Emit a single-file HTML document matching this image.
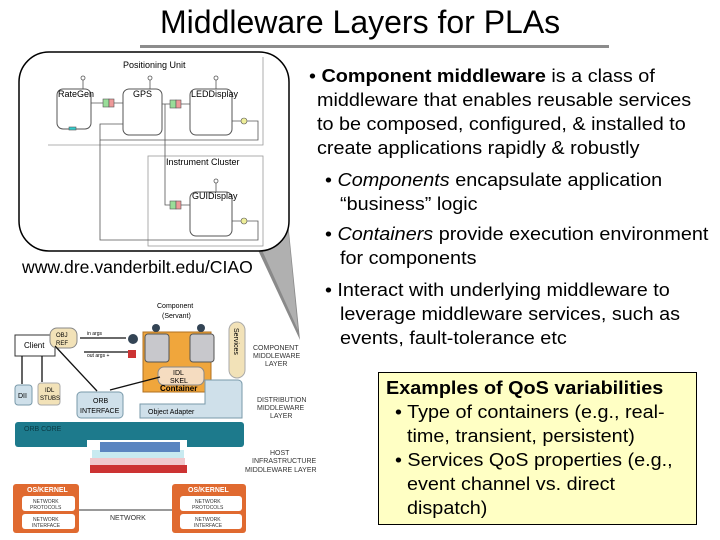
<!DOCTYPE html>
<html><head><style>
body{margin:0;background:#fff;}
#c{position:relative;width:720px;height:540px;overflow:hidden;font-family:"Liberation Sans",sans-serif;}
.t{position:absolute;white-space:nowrap;color:#000;}
.s{transform:scaleX(1.1);transform-origin:0 0;}
</style></head><body><div id="c">
<div class="t" style="left:160px;top:4px;font-size:32px;">Middleware Layers for PLAs</div>
<div style="position:absolute;left:140px;top:45px;width:469px;height:3px;background:#8c8c8c"></div>

<svg width="720" height="540" style="position:absolute;left:0;top:0" font-family="Liberation Sans, sans-serif">
<polygon points="258,250 288,222 300,340" fill="#8a8a8a"/>
<polygon points="262,250 288,228 298,330" fill="#b0b0b0"/>
<rect x="19" y="52" width="270" height="199" rx="30" fill="#fff" stroke="#000" stroke-width="1.5"/>
<g stroke="#999" fill="none" stroke-width="0.8">
<polyline points="48,145 263,145 263,57"/>
<rect x="148" y="156" width="115" height="90"/>
</g>
<text x="123" y="68" font-size="9">Positioning Unit</text>
<text x="166" y="165" font-size="9">Instrument Cluster</text>
<g stroke="#555" fill="#fff" stroke-width="1">
<rect x="57" y="89" width="34" height="40" rx="6"/>
<rect x="123" y="89" width="39" height="46" rx="6"/>
<rect x="190" y="89" width="42" height="46" rx="6"/>
<rect x="190" y="192" width="42" height="44" rx="6"/>
</g>
<g stroke="#555" fill="none" stroke-width="0.8">
<line x1="91" y1="103" x2="123" y2="103"/>
<line x1="162" y1="104" x2="190" y2="104"/>
<polyline points="165,104 165,205 190,205"/>
<polyline points="232,121 258,121 258,140 100,140 100,124 123,124"/>
<polyline points="232,221 258,221 258,240 100,240 100,140"/>
<line x1="83" y1="89" x2="83" y2="80"/><line x1="150" y1="89" x2="150" y2="80"/><line x1="216" y1="89" x2="216" y2="80"/><line x1="216" y1="192" x2="216" y2="183"/>
</g>
<g fill="#fff" stroke="#555" stroke-width="0.8"><circle cx="83" cy="78" r="2"/><circle cx="150" cy="78" r="2"/><circle cx="216" cy="78" r="2"/><circle cx="216" cy="181" r="2"/></g>
<g stroke="#555" stroke-width="0.6"><rect x="103" y="99" width="6" height="8" fill="#9d9"/><rect x="109" y="99" width="5" height="8" fill="#e99"/><rect x="170" y="100" width="6" height="8" fill="#9d9"/><rect x="176" y="100" width="5" height="8" fill="#e99"/><rect x="170" y="201" width="6" height="8" fill="#9d9"/><rect x="176" y="201" width="5" height="8" fill="#e99"/><circle cx="244" cy="121" r="3" fill="#ee9"/><circle cx="244" cy="221" r="3" fill="#ee9"/><rect x="69" y="127" width="7" height="3" fill="#3cc"/></g>
<g font-size="9"><text x="58" y="97">RateGen</text><text x="133" y="97">GPS</text><text x="191" y="97">LEDDisplay</text><text x="192" y="199">GUIDisplay</text></g>

<text x="157" y="308" font-size="7">Component</text><text x="162" y="318" font-size="7">(Servant)</text>
<rect x="143" y="332" width="68" height="60" fill="#f0a63c" stroke="#b07020"/>
<rect x="145" y="334" width="24" height="28" rx="3" fill="#c8c8cc" stroke="#555"/>
<rect x="190" y="334" width="24" height="28" rx="3" fill="#c8c8cc" stroke="#555"/>
<rect x="158" y="367" width="46" height="18" rx="6" fill="#f5dcc0" stroke="#888"/>
<text x="173" y="375" font-size="7">IDL</text><text x="170" y="383" font-size="7">SKEL</text>
<text x="160" y="391" font-size="8" font-weight="bold">Container</text>
<rect x="229" y="322" width="16" height="56" rx="8" fill="#f2e2b8" stroke="#aaa"/>
<text x="234" y="328" font-size="7" transform="rotate(90 234 328)">Services</text>
<path d="M205,380 h33 a4,4 0 0 1 4,4 v34 h-102 v-14 h65 z" fill="#cfe0ea" stroke="#7a9aaa"/>
<text x="148" y="414" font-size="7">Object Adapter</text>
<rect x="15" y="422" width="229" height="25" rx="3" fill="#1d7a8c"/>
<text x="24" y="431" font-size="7" fill="#0a3a44">ORB CORE</text>
<rect x="87" y="440" width="100" height="34" fill="#fff"/>
<rect x="90" y="465" width="97" height="8" fill="#c33"/><rect x="90" y="458" width="95" height="7" fill="#f0c8cc"/><rect x="92" y="450" width="92" height="8" fill="#c8eaf0"/><rect x="100" y="442" width="80" height="10" fill="#5b85c0"/>
<rect x="15" y="335" width="40" height="21" fill="#fff" stroke="#333"/><text x="24" y="348" font-size="8">Client</text>
<rect x="50" y="328" width="27" height="20" rx="7" fill="#f2e2b8" stroke="#888"/><text x="56" y="337" font-size="6">OBJ</text><text x="56" y="345" font-size="6">REF</text>
<rect x="15" y="385" width="17" height="20" rx="3" fill="#cfe0ea" stroke="#7a9aaa"/><text x="18" y="398" font-size="7">DII</text>
<rect x="38" y="383" width="22" height="22" rx="3" fill="#f2e2b8" stroke="#aaa"/><text x="45" y="392" font-size="6">IDL</text><text x="40" y="400" font-size="6">STUBS</text>
<rect x="77" y="392" width="46" height="26" rx="4" fill="#cfe0ea" stroke="#7a9aaa"/><text x="93" y="403" font-size="7">ORB</text><text x="80" y="413" font-size="7">INTERFACE</text>
<g stroke="#111" stroke-width="1.3" fill="none"><line x1="22" y1="356" x2="22" y2="384"/><line x1="42" y1="356" x2="42" y2="382"/><line x1="55" y1="346" x2="97" y2="391"/><line x1="110" y1="390" x2="160" y2="377"/><line x1="80" y1="338" x2="126" y2="338"/><line x1="84" y1="352" x2="128" y2="352"/></g>
<text x="87" y="335" font-size="5">in args</text><text x="87" y="357" font-size="5">out args +</text>
<circle cx="133" cy="339" r="5" fill="#345"/><circle cx="156" cy="328" r="4" fill="#345"/><circle cx="201" cy="328" r="4" fill="#345"/>
<rect x="128" y="350" width="8" height="8" fill="#c33"/>
<text x="253" y="350" font-size="7" fill="#333">COMPONENT</text><text x="253" y="358" font-size="7" fill="#333">MIDDLEWARE</text><text x="265" y="366" font-size="7" fill="#333">LAYER</text>
<text x="257" y="402" font-size="7" fill="#333">DISTRIBUTION</text><text x="257" y="410" font-size="7" fill="#333">MIDDLEWARE</text><text x="270" y="418" font-size="7" fill="#333">LAYER</text>
<text x="270" y="455" font-size="7" fill="#333">HOST</text><text x="252" y="463" font-size="7" fill="#333">INFRASTRUCTURE</text><text x="245" y="472" font-size="7" fill="#333">MIDDLEWARE LAYER</text>
<line x1="78" y1="510" x2="172" y2="510" stroke="#333"/>
<text x="110" y="520" font-size="7" fill="#333">NETWORK</text>
<rect x="13" y="484" width="66" height="49" rx="3" fill="#e06a30"/>
<rect x="172" y="484" width="74" height="49" rx="3" fill="#e06a30"/>
<text x="27" y="492" font-size="7" fill="#fff" font-weight="bold">OS/KERNEL</text><text x="188" y="492" font-size="7" fill="#fff" font-weight="bold">OS/KERNEL</text>
<rect x="22" y="496" width="53" height="15" rx="3" fill="#fff"/><rect x="22" y="514" width="53" height="15" rx="3" fill="#fff"/>
<rect x="180" y="496" width="62" height="15" rx="3" fill="#fff"/><rect x="180" y="514" width="62" height="15" rx="3" fill="#fff"/>
<g font-size="5" fill="#333"><text x="33" y="503">NETWORK</text><text x="30" y="509">PROTOCOLS</text><text x="33" y="521">NETWORK</text><text x="32" y="527">INTERFACE</text>
<text x="195" y="503">NETWORK</text><text x="192" y="509">PROTOCOLS</text><text x="195" y="521">NETWORK</text><text x="194" y="527">INTERFACE</text></g>
</svg>

<div class="t" style="left:22px;top:257px;font-size:17.6px;">www.dre.vanderbilt.edu/CIAO</div>

<div style="font-size:18px;line-height:24px;">
<div class="t s" style="left:309px;top:64px;">• <b>Component middleware</b> is a class of</div>
<div class="t s" style="left:317px;top:88px;">middleware that enables reusable services</div>
<div class="t s" style="left:317px;top:112px;">to be composed, configured, &amp; installed to</div>
<div class="t s" style="left:317px;top:136px;">create applications rapidly &amp; robustly</div>
<div class="t s" style="left:325px;top:168px;">• <i>Components</i> encapsulate application</div>
<div class="t s" style="left:340px;top:192px;">“business” logic</div>
<div class="t s" style="left:325px;top:222px;">• <i>Containers</i> provide execution environment</div>
<div class="t s" style="left:340px;top:246px;">for components</div>
<div class="t s" style="left:325px;top:278px;">• Interact with underlying middleware to</div>
<div class="t s" style="left:340px;top:302px;">leverage middleware services, such as</div>
<div class="t s" style="left:340px;top:326px;">events, fault-tolerance etc</div>
</div>

<div style="position:absolute;left:378px;top:372px;width:319px;height:153px;background:#ffffc4;border:1px solid #000;box-sizing:border-box;"></div>
<div style="font-size:18px;line-height:24px;">
<div class="t s" style="left:386px;top:376px;"><b>Examples of QoS variabilities</b></div>
<div class="t s" style="left:395px;top:400px;">• Type of containers (e.g., real-</div>
<div class="t s" style="left:407px;top:424px;">time, transient, persistent)</div>
<div class="t s" style="left:395px;top:448px;">• Services QoS properties (e.g.,</div>
<div class="t s" style="left:407px;top:472px;">event channel vs. direct</div>
<div class="t s" style="left:407px;top:496px;">dispatch)</div>
</div>
</div></body></html>
